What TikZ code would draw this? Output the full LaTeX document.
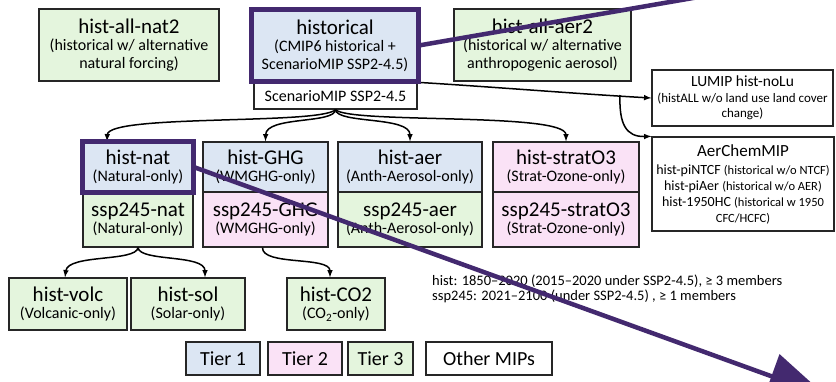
\documentclass[tikz,border=0pt]{standalone}
\usepackage{fontspec}
\setmainfont{Carlito}
\usetikzlibrary{arrows.meta}
\definecolor{tierA}{HTML}{DCE6F3}
\definecolor{tierB}{HTML}{FAE2F6}
\definecolor{tierC}{HTML}{E4F5DD}
\definecolor{hilite}{HTML}{43296F}
\newcommand\ttlsize{\fontsize{21}{23}\selectfont}
\newcommand\subsize{\fontsize{16}{17.5}\selectfont}
\begin{document}
\begin{tikzpicture}[x=1pt, y=-1pt, >=latex,
  box/.style={draw=black!85, line width=1.3pt, inner sep=0pt, align=center, font=\subsize},
  link/.style={->, line width=1.5pt},
  hiline/.style={draw=hilite, line width=4.5pt}]
\useasboundingbox (0,0) rectangle (836,381);
\clip (0,0) rectangle (836,381);
\fill[white] (0,0) rectangle (836,381);

% top row
\node[box, fill=tierC, minimum width=180, minimum height=72] (allnat) at (129,45)
  {{\ttlsize hist-all-nat2}\\(historical w/ alternative\\natural forcing)};
\node[box, fill=tierA, minimum width=166, minimum height=71] (hist) at (335,45.5)
  {{\ttlsize historical}\\(CMIP6 historical +\\ScenarioMIP SSP2-4.5)};
\node[box, fill=white, minimum width=163, minimum height=26] (scen) at (335.5,96)
  {ScenarioMIP SSP2-4.5};
\node[box, fill=tierC, minimum width=177, minimum height=72] (allaer) at (542.5,45)
  {{\ttlsize hist-all-aer2}\\(historical w/ alternative\\anthropogenic aerosol)};

% other MIPs
\node[box, fill=white, minimum width=181, minimum height=56, font=\fontsize{13}{15}\selectfont] (lumip) at (742.5,98)
  {{\fontsize{15.5}{17}\selectfont LUMIP hist-noLu}\\[1pt](histALL w/o land use land cover\\change)};
\node[box, fill=white, minimum width=182, minimum height=94, font=\fontsize{14}{16}\selectfont] (aerchem) at (743,184)
  {{\fontsize{17}{19}\selectfont AerChemMIP}\\[2pt]
   hist-piNTCF {\fontsize{12.5}{14}\selectfont(historical w/o NTCF)}\\
   hist-piAer {\fontsize{12.5}{14}\selectfont(historical w/o AER)}\\
   hist-1950HC {\fontsize{12.5}{14}\selectfont(historical w 1950}\\
   {\fontsize{12.5}{14}\selectfont CFC/HCFC)}};

% single forcing experiments
\foreach \nm/\cx/\w/\ca/\cb/\ta/\sa/\tb in {nat/138/110/tierA/tierC/hist-nat/Natural-only/ssp245-nat,
  ghg/265.5/125/tierA/tierB/hist-GHG/WMGHG-only/ssp245-GHG,
  aer/410/144/tierA/tierC/hist-aer/Anth-Aerosol-only/ssp245-aer,
  strat/566/146/tierB/tierB/hist-stratO3/Strat-Ozone-only/ssp245-stratO3}
{
    \node[box, fill=\ca, minimum width=\w, minimum height=50] (h\nm) at (\cx,167) {{\ttlsize \ta}\\(\sa)};
    \node[box, fill=\cb, minimum width=\w, minimum height=55] (s\nm) at (\cx,219.5) {{\ttlsize \tb}\\(\sa)};
}

\node[box, fill=tierC, minimum width=118, minimum height=52] (volc) at (68,304) {{\ttlsize hist-volc}\\(Volcanic-only)};
\node[box, fill=tierC, minimum width=114, minimum height=52] (sol) at (188,304) {{\ttlsize hist-sol}\\(Solar-only)};
\node[box, fill=tierC, minimum width=98, minimum height=52] (co2) at (336,304) {{\ttlsize hist-CO2}\\(CO\textsubscript{2}-only)};

% legend
\foreach \nm/\cx/\w/\c/\t in {tone/223/74/tierA/Tier 1, ttwo/305/74/tierB/Tier 2,
  tthree/380.5/65/tierC/Tier 3, tother/489/126/white/Other MIPs}
{
    \node[box, fill=\c, minimum width=\w, minimum height=33, font=\fontsize{20}{22}\selectfont] (\nm) at (\cx,358.5) {\t};
}
\node[anchor=base west, inner sep=0pt, font=\fontsize{14.5}{16}\selectfont] (histnote) at (432,285)
  {hist: 1850–2020 (2015–2020 under SSP2-4.5), ≥ 3 members};
\node[anchor=base west, inner sep=0pt, font=\fontsize{14.5}{16}\selectfont] (sspnote) at (432,300)
  {ssp245: 2021–2100 (under SSP2-4.5) , ≥ 1 members};

% connectors
\draw[link] (scen.south) .. controls (320,125) and (108,114) .. ([xshift=-31pt]hnat.north);
\draw[link] (scen.south) .. controls (335,124) and (266,116) .. (hghg.north);
\draw[link] (scen.south) .. controls (337,124) and (410,116) .. (haer.north);
\draw[link] (scen.south) .. controls (350,124) and (566,112) .. (hstrat.north);
\draw[link] (scen.north east) .. controls (480,86) and (580,94) .. (lumip.west);
\coordinate (fork) at (620,95);
\draw[link] (fork) .. controls (619,124) and (626,137) .. (aerchem.north west);
\draw[link] (snat.south) .. controls (136,262) and (68,254) .. ([xshift=-3pt]volc.north);
\draw[link] (snat.south) .. controls (140,262) and (205,254) .. ([xshift=17pt]sol.north);
\draw[link] ([xshift=-3pt]sghg.south) .. controls (262,266) and (330,256) .. ([xshift=-6pt]co2.north);

% highlights
\coordinate (farend) at (820,-24);
\coordinate (tip) at (826,396);
\draw[hiline] (hist.north west) rectangle (hist.south east);
\draw[hiline] (hnat.north west) rectangle (hnat.south east);
\draw[hiline] (hist.east) -- (farend);
\draw[hiline, -{Triangle[length=58pt, width=46pt]}] (hnat.east) -- (tip);
\end{tikzpicture}
\end{document}
